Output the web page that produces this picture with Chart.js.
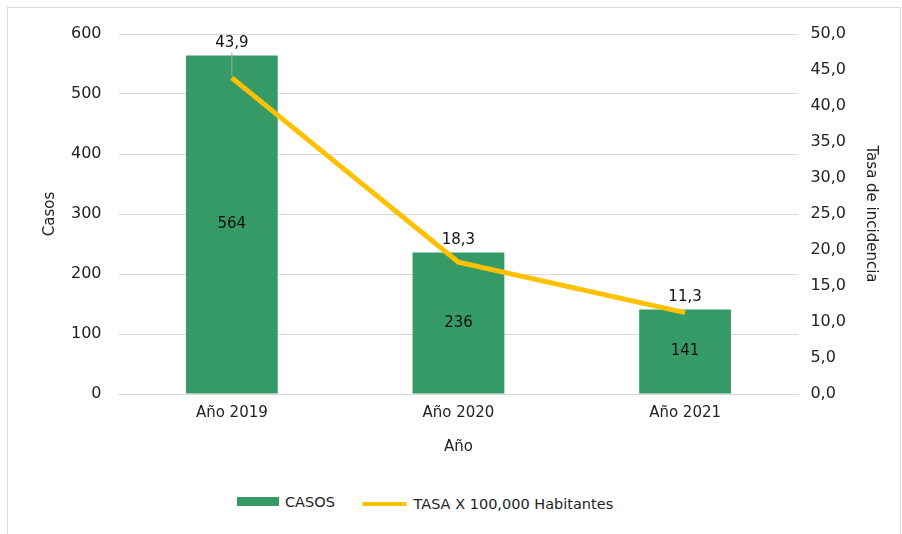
<!DOCTYPE html>
<html>
<head>
<meta charset="utf-8">
<script src="https://cdn.jsdelivr.net/npm/chart.js@4"></script>
<style>
  body { margin: 0; background: #fff; font-family: "DejaVu Sans", sans-serif; }
  #frame { position: absolute; left: 7px; top: 7px; width: 892px; height: 540px; border: 1px solid #d9d9d9; }
  #wrap { position: absolute; left: 0; top: 0; width: 902px; height: 460px; }
  #legend { position: absolute; left: 237px; top: 493px; white-space: nowrap; font-size: 14.5px; color: #222; }
  #legend span.item { display: inline-flex; align-items: center; margin-right: 23px; }
  #legend i { display: inline-block; margin-right: 6px; }
</style>
</head>
<body>
<div id="frame"></div>
<div id="wrap"><canvas id="chart" width="902" height="460"></canvas></div>
<div id="legend">
  <span class="item"><i style="width:42px;height:9px;background:#369a66"></i>CASOS</span>
  <span class="item"><i style="width:45px;height:4px;border-radius:2px;background:#ffc000"></i>TASA X 100,000 Habitantes</span>
</div>
<script>
const years = ["Año 2019", "Año 2020", "Año 2021"];
const casos = [564, 236, 141];
const tasa = [43.9, 18.3, 11.3];

const fmtComma = (v) => v.toFixed(1).replace(".", ",");

// draws the value labels the way the spreadsheet did
const valueLabels = {
  id: "valueLabels",
  afterDatasetsDraw(chart) {
    const ctx = chart.ctx;
    const bars = chart.getDatasetMeta(0).data;
    const pts = chart.getDatasetMeta(1).data;
    ctx.save();
    ctx.font = "15px 'DejaVu Sans'";
    ctx.fillStyle = "#111";
    ctx.textAlign = "center";
    ctx.textBaseline = "middle";
    bars.forEach((b, i) => {
      ctx.fillText(String(casos[i]), b.x, (b.y + b.base) / 2);
    });
    pts.forEach((p, i) => {
      const top = bars[i].y;
      const ly = top - 12;
      if (p.y - ly > 22) {
        ctx.strokeStyle = "#a6a6a6";
        ctx.lineWidth = 1;
        ctx.beginPath();
        ctx.moveTo(p.x, p.y - 2);
        ctx.lineTo(p.x, ly + 9);
        ctx.stroke();
      }
      ctx.fillText(fmtComma(tasa[i]), p.x, ly);
    });
    ctx.restore();
  }
};

Chart.defaults.font.family = "'DejaVu Sans', sans-serif";
Chart.defaults.font.size = 15;
Chart.defaults.color = "#222";

new Chart(document.getElementById("chart"), {
  type: "bar",
  data: {
    labels: years,
    datasets: [
      {
        type: "bar",
        label: "CASOS",
        data: casos,
        backgroundColor: "#369a66",
        yAxisID: "y",
        categoryPercentage: 1,
        barPercentage: 0.405,
        order: 2
      },
      {
        type: "line",
        label: "TASA X 100,000 Habitantes",
        data: tasa,
        borderColor: "#ffc000",
        borderWidth: 5,
        pointRadius: 0,
        tension: 0,
        yAxisID: "y1",
        order: 1
      }
    ]
  },
  options: {
    responsive: false,
    animation: false,
    layout: { padding: { left: 37, right: 18, top: 34, bottom: 0 } },
    plugins: {
      legend: { display: false },
      tooltip: { enabled: false }
    },
    scales: {
      x: {
        grid: { display: false },
        border: { color: "#d9d9d9", width: 1 },
        ticks: { padding: 2 },
        title: { display: true, text: "Año", padding: { top: 14, bottom: 4 } }
      },
      y: {
        min: 0,
        max: 600,
        ticks: { stepSize: 100, padding: 17, font: { size: 16 } },
        grid: { color: "#d9d9d9", drawTicks: false },
        border: { display: false },
        title: { display: true, text: "Casos", padding: { top: 4, bottom: -5 } }
      },
      y1: {
        position: "right",
        min: 0,
        max: 50,
        ticks: { stepSize: 5, padding: 12, font: { size: 16 }, callback: (v) => fmtComma(v) },
        grid: { display: false, drawTicks: false },
        border: { display: false },
        title: { display: true, text: "Tasa de incidencia" }
      }
    }
  },
  plugins: [valueLabels]
});
</script>
</body>
</html>
